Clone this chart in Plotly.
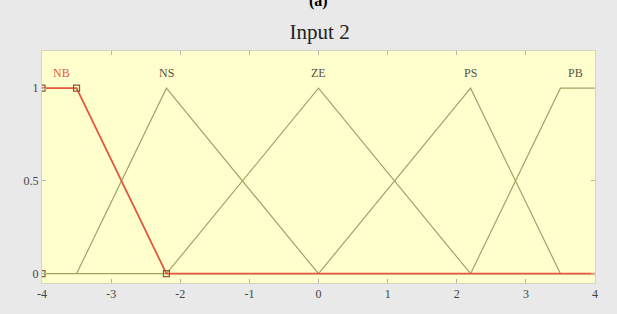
import plotly.graph_objects as go

# membership functions (x breakpoints, y values)
mf_names = ["NB", "NS", "ZE", "PS", "PB"]
nb_x = [-4, -3.5, -2.2, 4]
nb_y = [1, 1, 0, 0]
nb_mark_x = [-4, -3.5, -2.2, -4]
nb_mark_y = [1, 1, 0, 0]
ns_x = [-3.5, -2.2, 0]
ns_y = [0, 1, 0]
ze_x = [-2.2, 0, 2.2]
ze_y = [0, 1, 0]
ps_x = [0, 2.2, 3.5]
ps_y = [0, 1, 0]
pb_x = [2.2, 3.5, 4]
pb_y = [0, 1, 1]
label_x = [-3.72, -2.2, 0, 2.2, 3.72]
label_y = [1.08, 1.08, 1.08, 1.08, 1.08]
x_ticks = [-4, -3, -2, -1, 0, 1, 2, 3, 4]
x_tick_text = ["-4", "-3", "-2", "-1", "0", "1", "2", "3", "4"]
y_ticks = [0, 0.5, 1]
y_tick_text = ["0", "0.5", "1"]

olive = "#a3a266"
red = "#e2573d"
serif = "Liberation Serif, Times New Roman, serif"

fig = go.Figure()
fig.add_trace(go.Scatter(x=[-4, 4], y=[0, 0], mode="lines",
                         line=dict(color=olive, width=1.2), hoverinfo="skip"))
for xs, ys in [(ns_x, ns_y), (ze_x, ze_y), (ps_x, ps_y), (pb_x, pb_y)]:
    fig.add_trace(go.Scatter(x=xs, y=ys, mode="lines",
                             line=dict(color=olive, width=1.2)))
fig.add_trace(go.Scatter(x=nb_x, y=nb_y, mode="lines",
                         line=dict(color=red, width=1.8)))
fig.add_trace(go.Scatter(x=nb_mark_x, y=nb_mark_y, mode="markers",
                         marker=dict(symbol="square-open", size=6,
                                     color="#8a5a30", line=dict(width=1.2))))

for i, name in enumerate(mf_names):
    fig.add_annotation(x=label_x[i], y=label_y[i], text=name, showarrow=False,
                       font=dict(family=serif, size=12,
                                 color=red if name == "NB" else "#555544"))

fig.add_annotation(x=0.5, xref="paper", y=1, yref="paper", yshift=50,
                   text="<b>(a)</b>", showarrow=False, yanchor="middle",
                   font=dict(family=serif, size=16, color="#000000"))

fig.update_layout(
    width=617, height=314,
    margin=dict(l=42, r=22, t=51, b=31),
    paper_bgcolor="#e9e9e9",
    plot_bgcolor="#ffffcd",
    showlegend=False,
    title=dict(text="Input 2", x=0.518, xanchor="center", y=0.9, yanchor="middle",
               font=dict(family=serif, size=21, color="#222222")),
    xaxis=dict(range=[-4, 4], tickvals=x_ticks, ticktext=x_tick_text,
               ticks="inside", ticklen=4,
               tickcolor="#b8b8a8", showgrid=False, zeroline=False,
               showline=True, linecolor="#d4d4c4", mirror="ticks",
               tickfont=dict(family=serif, size=12, color="#444444")),
    yaxis=dict(range=[-0.05, 1.2], tickvals=y_ticks, ticktext=y_tick_text,
               ticks="inside", ticklen=4, tickcolor="#b8b8a8",
               showgrid=False, zeroline=False, showline=True,
               linecolor="#d4d4c4", mirror="ticks",
               tickfont=dict(family=serif, size=12, color="#444444")),
)

fig.write_html("out.html", config={"displayModeBar": False},
               post_script="document.body.style.margin='0';document.body.style.background='#e9e9e9';")
